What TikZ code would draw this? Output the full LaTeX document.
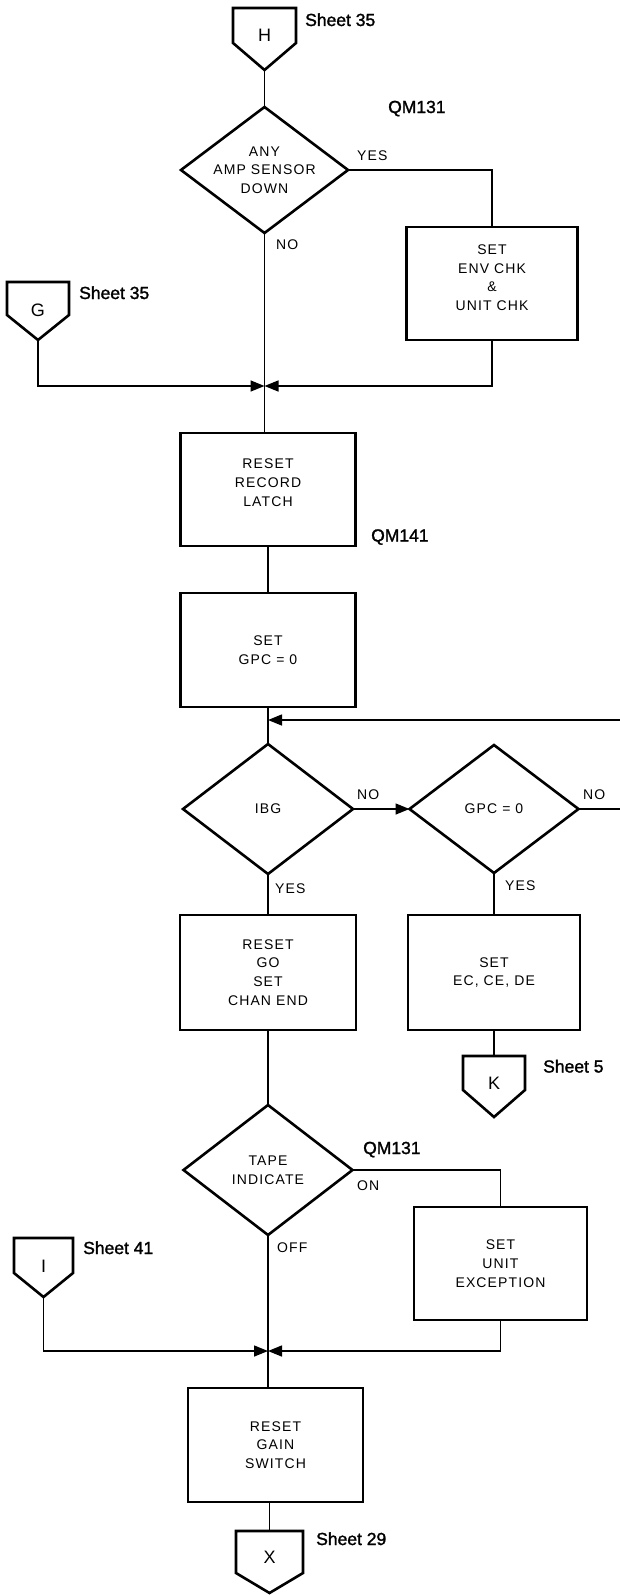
\documentclass[tikz,border=0pt]{standalone}
\usepackage{fontspec}
\setmainfont{Liberation Sans}
\newfontfamily\boxfont{Liberation Sans}[LetterSpace=8.0]
\newfontfamily\lblfont{Liberation Sans}[FakeBold=1.5]
\usetikzlibrary{shapes.geometric,arrows.meta,calc}
\begin{document}
\begin{tikzpicture}[x=1pt,y=-1pt,
  box/.style={draw,line width=2.6pt,inner sep=0pt,outer sep=0pt,align=center,
    font=\boxfont\fontsize{14}{18.7}\selectfont},
  dia/.style={draw,diamond,line width=2.6pt,inner sep=0pt,outer sep=0pt},
  dtext/.style={align=center,inner sep=0pt,font=\boxfont\fontsize{14}{18.7}\selectfont},
  cbord/.style={line width=2.6pt,line join=miter},
  ctext/.style={inner sep=0pt,font=\fontsize{18}{20}\selectfont},
  lbl/.style={anchor=base west,inner sep=0pt,font=\lblfont\fontsize{17.5}{20}\selectfont},
  yn/.style={anchor=base west,inner sep=0pt,font=\boxfont\fontsize{14}{16}\selectfont},
  wire/.style={line width=1.5pt},
  arr/.style={wire,-{Triangle[length=14pt,width=11pt]}}]
\useasboundingbox (0,0) rectangle (619,1595);

% ---- top: H connector and first decision
\node[ctext] (H) at (264.5,35) {H};
\draw[cbord] (233,8) -- (296,8) -- (296,43) -- (264.5,70) coordinate (Htip) -- (233,43) -- cycle;
\node[lbl] (s35a) at (305,26) {Sheet 35};
\node[lbl] (qm1) at (388,113) {QM131};
\node[dia,minimum width=167pt,minimum height=126pt,
  label={[dtext]center:{ANY\\AMP SENSOR\\DOWN}}] (d1) at (264.5,170) {};
\node[yn] (yes1) at (357,160.5) {YES};
\node[yn] (no1) at (276,249) {NO};
\node[box,minimum width=171pt,minimum height=113pt,text depth=12pt] (env) at (492,283.5) {SET\\ENV CHK\\\&\\UNIT CHK};

% ---- G connector
\node[ctext] (G) at (38,310) {G};
\draw[cbord] (7,282) -- (69,282) -- (69,315) -- (38,340) coordinate (Gtip) -- (7,315) -- cycle;
\node[lbl] (s35b) at (79,299) {Sheet 35};
\coordinate (j1) at (264.5,386);

% ---- boxes
\node[box,minimum width=175pt,minimum height=113pt,text depth=14pt] (rrl) at (268,489.5) {RESET\\RECORD\\LATCH};
\node[lbl] (qm2) at (371,541.5) {QM141};
\node[box,minimum width=175pt,minimum height=114pt] (gpc) at (268,650) {SET\\GPC = 0};
\coordinate (lp) at (268,720);
\coordinate (redge) at (622,720);

% ---- decisions IBG / GPC
\node[dia,minimum width=170pt,minimum height=130pt,label={[dtext]center:IBG}] (ibg) at (268,809) {};
\node[dia,minimum width=169pt,minimum height=128pt,label={[dtext]center:{GPC = 0}}] (gq) at (494,809) {};
\node[yn] (no2) at (357,799) {NO};
\node[yn] (no3) at (583,799) {NO};
\node[yn] (yes2) at (275,893) {YES};
\node[yn] (yes3) at (505,890.5) {YES};
\node[box,minimum width=176pt,minimum height=115pt] (rgo) at (268,972.5) {RESET\\GO\\SET\\CHAN END};
\node[box,minimum width=172pt,minimum height=115pt] (sec) at (494,972.5) {SET\\EC, CE, DE};

% ---- K connector
\node[ctext] (K) at (494,1083) {K};
\draw[cbord] (494,1056) coordinate (Ktop) -- (525,1056) -- (525,1090) -- (494,1117) -- (463,1090) -- (463,1056) -- cycle;
\node[lbl] (s5) at (543,1072.5) {Sheet 5};

% ---- tape decision
\node[dia,minimum width=169pt,minimum height=130pt,label={[dtext]center:{TAPE\\INDICATE}}] (tape) at (268,1170) {};
\node[lbl] (qm3) at (363,1154) {QM131};
\node[yn] (on) at (357,1190) {ON};
\node[yn] (off) at (277,1252) {OFF};
\node[box,minimum width=173pt,minimum height=113pt] (uex) at (500.5,1263.5) {SET\\UNIT\\EXCEPTION};

% ---- I connector
\node[ctext] (I) at (43.5,1266) {I};
\draw[cbord] (14,1238) -- (73,1238) -- (73,1273) -- (43.5,1297) coordinate (Itip) -- (14,1273) -- cycle;
\node[lbl] (s41) at (83,1254) {Sheet 41};
\coordinate (j2) at (268,1351);

\node[box,minimum width=175pt,minimum height=114pt] (rgs) at (275.5,1445) {RESET\\GAIN\\SWITCH};

% ---- X connector
\node[ctext] (X) at (269.5,1557) {X};
\draw[cbord] (269.5,1531) coordinate (Xtop) -- (303,1531) -- (303,1573) -- (269.5,1593) -- (236,1573) -- (236,1531) -- cycle;
\node[lbl] (s29) at (316,1545) {Sheet 29};

% ---- connectors
\draw[wire] (Htip) -- (d1.north);
\draw[wire] (d1.east) -| (env.north);
\draw[wire] (d1.south) -- (j1);
\draw[arr] (Gtip) |- (j1);
\draw[arr] (env.south) |- (j1);
\draw[wire] (j1) -- (j1 |- rrl.north);
\draw[wire] (rrl.south) -- (gpc.north);
\draw[wire] (gpc.south) -- (ibg.north);
\draw[arr] (gq.east) -| (redge) -- (lp);
\draw[arr] (ibg.east) -- (gq.west);
\draw[wire] (ibg.south) -- (rgo.north);
\draw[wire] (gq.south) -- (sec.north);
\draw[wire] (sec.south) -- (Ktop);
\draw[wire] (rgo.south) -- (tape.north);
\draw[wire] (tape.east) -| (uex.north);
\draw[arr] (uex.south) |- (j2);
\draw[arr] (Itip) |- (j2);
\draw[wire] (tape.south) -- (j2);
\draw[wire] (j2) -- (j2 |- rgs.north);
\draw[wire] (rgs.south -| Xtop) -- (Xtop);
\end{tikzpicture}
\end{document}
